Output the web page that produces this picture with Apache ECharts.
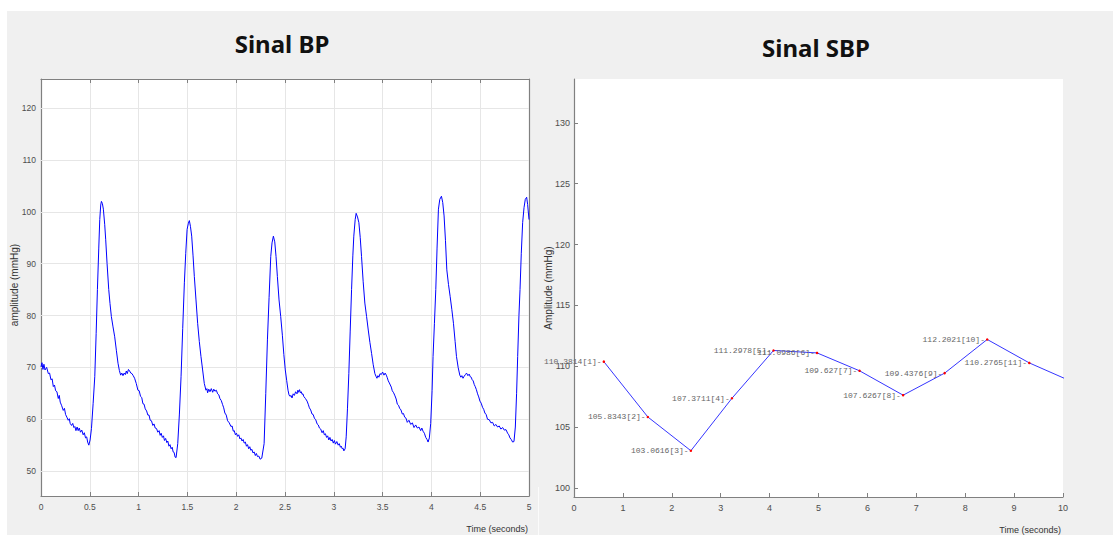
<!DOCTYPE html>
<html>
<head>
<meta charset="utf-8">
<script src="https://cdn.jsdelivr.net/npm/echarts@6/dist/echarts.min.js"></script>
<style>
  html, body { margin: 0; padding: 0; background: #fff; }
  #chart { width: 1113px; height: 535px; }
</style>
</head>
<body>
<div id="chart"></div>
<script>
// Blood pressure waveform, [time (s), amplitude (mmHg)]
const bpSamples = [
  [0.000,70.1],[0.010,70.9],[0.020,69.6],[0.030,70.6],[0.041,69.5],[0.058,70.0],[0.075,68.8],[0.088,68.9],
  [0.102,67.6],[0.114,67.8],[0.126,66.3],[0.138,66.6],[0.150,65.5],[0.163,65.3],[0.177,64.0],[0.187,64.6],
  [0.197,63.3],[0.212,62.6],[0.228,61.7],[0.240,62.1],[0.252,60.9],[0.265,60.4],[0.279,59.8],[0.290,60.1],
  [0.299,59.2],[0.313,58.8],[0.325,59.2],[0.337,58.4],[0.347,58.6],[0.358,57.8],[0.370,58.5],[0.381,57.8],
  [0.392,58.3],[0.405,57.5],[0.418,57.9],[0.432,57.0],[0.444,57.4],[0.456,56.4],[0.468,56.6],[0.478,55.6],
  [0.490,55.0],[0.503,56.0],[0.517,58.2],
  [0.534,63.0],[0.551,68.2],[0.565,76.5],[0.578,85.0],[0.592,93.0],[0.602,98.5],[0.612,101.3],[0.619,102.0],
  [0.629,101.6],[0.639,100.5],[0.653,97.5],[0.663,94.6],[0.677,90.0],[0.694,85.0],[0.707,82.3],[0.721,79.8],
  [0.738,77.8],[0.755,75.9],[0.772,73.3],[0.789,70.8],[0.803,69.4],[0.816,68.5],[0.828,68.9],[0.840,68.4],
  [0.852,68.9],[0.864,68.6],[0.874,69.3],[0.884,68.8],[0.896,69.6],[0.908,69.3],[0.920,68.9],[0.932,68.8],
  [0.945,68.4],[0.959,67.9],[0.976,66.9],[0.993,65.6],[1.006,65.5],[1.020,64.4],[1.032,64.2],[1.044,63.0],
  [1.056,62.9],[1.068,62.0],[1.082,61.6],[1.095,60.8],[1.107,60.8],[1.119,59.8],[1.132,59.7],[1.146,58.8],
  [1.158,59.1],[1.170,58.3],[1.184,58.2],[1.197,57.5],[1.210,57.8],[1.221,56.9],[1.231,57.3],[1.243,56.5],
  [1.255,56.8],[1.265,55.9],[1.277,56.3],[1.289,55.5],[1.299,55.8],[1.311,54.8],[1.322,55.1],[1.333,54.3],
  [1.344,54.6],[1.354,53.7],[1.364,53.6],[1.374,52.7],[1.384,52.6],
  [1.401,55.3],[1.418,61.0],[1.435,68.2],[1.452,77.5],[1.469,86.3],[1.483,92.0],[1.497,96.6],[1.510,97.8],
  [1.520,98.3],[1.531,97.2],[1.544,95.3],[1.558,91.5],[1.571,87.5],[1.588,83.0],[1.605,78.5],[1.622,75.0],
  [1.639,72.1],[1.656,69.5],[1.673,66.9],[1.690,65.6],[1.700,65.9],[1.707,65.1],[1.719,65.8],[1.731,65.3],
  [1.745,65.9],[1.759,65.2],[1.770,65.8],[1.782,65.4],[1.796,65.6],[1.810,64.9],[1.822,64.7],[1.833,64.0],
  [1.847,63.6],[1.861,62.8],[1.872,62.2],[1.884,61.2],[1.898,60.8],[1.912,59.7],[1.929,59.3],[1.946,58.6],
  [1.958,58.7],[1.970,57.7],[1.980,57.8],[1.992,57.0],[2.003,57.3],[2.014,56.7],[2.026,57.0],[2.038,56.2],
  [2.048,56.4],[2.060,55.8],[2.071,56.1],[2.082,55.4],[2.094,55.6],[2.105,54.8],[2.116,55.1],[2.128,54.3],
  [2.139,54.7],[2.150,54.0],[2.161,54.2],[2.172,53.5],[2.184,53.7],[2.196,53.0],[2.207,53.4],[2.218,52.8],
  [2.232,52.9],[2.245,52.3],[2.262,52.5],
  [2.286,55.3],[2.303,65.0],[2.320,75.3],[2.337,83.5],[2.354,91.4],[2.367,94.0],[2.381,95.3],[2.395,94.2],
  [2.408,91.4],[2.422,87.5],[2.439,83.0],[2.456,79.8],[2.473,76.2],[2.488,72.5],[2.503,69.5],[2.517,67.5],
  [2.531,65.6],[2.541,64.7],[2.551,64.4],[2.562,64.6],[2.572,64.1],[2.584,64.9],[2.596,64.6],[2.609,65.3],
  [2.623,64.9],[2.632,65.6],[2.640,65.2],[2.649,65.7],[2.658,65.1],[2.667,65.3],[2.675,64.8],[2.684,64.9],
  [2.692,64.4],[2.709,64.0],[2.726,63.5],[2.738,62.9],[2.750,62.2],[2.763,61.8],[2.777,61.0],[2.789,60.9],
  [2.801,60.2],[2.815,59.9],[2.829,59.1],[2.841,58.9],[2.853,58.3],[2.866,58.1],[2.880,57.4],[2.892,57.8],
  [2.903,57.0],[2.914,57.2],[2.926,56.5],[2.937,56.8],[2.949,56.0],[2.960,56.5],[2.972,55.8],[2.983,56.1],
  [2.995,55.4],[3.006,55.9],[3.017,55.2],[3.031,55.7],[3.045,55.0],[3.056,55.3],[3.068,54.6],[3.077,54.8],
  [3.086,54.3],[3.096,54.4],[3.103,53.9],[3.116,54.3],
  [3.127,56.6],[3.140,62.0],[3.154,68.8],[3.168,77.0],[3.182,85.0],[3.195,91.5],[3.205,95.3],[3.219,98.5],
  [3.229,99.7],[3.243,99.0],[3.257,97.9],[3.271,95.0],[3.284,91.4],[3.301,86.5],[3.318,82.4],[3.336,79.8],
  [3.353,77.2],[3.370,74.8],[3.387,72.7],[3.404,70.5],[3.421,68.8],[3.432,68.3],[3.442,67.9],[3.452,68.4],
  [3.462,68.1],[3.474,68.8],[3.486,68.6],[3.500,69.1],[3.514,68.5],[3.526,68.9],[3.538,68.5],[3.548,68.0],
  [3.558,67.4],[3.569,67.0],[3.579,66.6],[3.589,66.2],[3.599,65.5],[3.613,65.1],[3.627,64.5],[3.639,63.9],
  [3.651,62.9],[3.663,62.7],[3.675,62.1],[3.688,61.8],[3.702,61.0],[3.714,61.1],[3.726,60.4],[3.740,60.2],
  [3.753,59.4],[3.770,59.8],[3.788,59.0],[3.805,59.3],[3.822,58.4],[3.839,58.9],[3.856,58.3],[3.873,58.5],
  [3.890,57.8],[3.902,58.3],[3.914,57.7],[3.928,57.3],[3.942,56.5],[3.955,56.1],[3.966,55.6],[3.979,56.4],
  [3.993,59.2],[4.007,65.5],[4.017,72.1],[4.031,78.5],[4.045,85.0],[4.058,93.0],[4.072,100.5],[4.086,102.4],
  [4.103,103.0],[4.116,101.8],[4.130,99.2],[4.144,94.5],[4.158,88.8],[4.175,86.0],[4.192,83.7],[4.209,81.2],
  [4.226,78.5],[4.243,75.0],[4.257,72.1],[4.274,70.0],[4.291,68.5],[4.302,68.1],[4.312,68.4],[4.324,67.9],
  [4.336,68.3],[4.348,68.6],[4.360,68.9],[4.374,68.4],[4.387,68.7],[4.398,68.2],[4.408,68.1],[4.418,67.6],
  [4.428,67.4],[4.439,66.7],[4.449,66.3],[4.461,65.7],[4.473,64.9],[4.485,64.3],[4.497,63.5],[4.510,63.1],
  [4.524,62.3],[4.536,61.9],[4.548,61.2],[4.561,60.9],[4.575,60.0],[4.593,59.9],[4.610,59.3],[4.627,59.4],
  [4.644,58.7],[4.661,59.0],[4.678,58.5],[4.695,58.7],[4.712,58.1],[4.730,58.4],[4.747,57.9],[4.764,58.0],
  [4.781,57.3],[4.793,57.0],[4.805,56.4],[4.818,56.1],[4.832,55.6],[4.846,55.7],
  [4.860,58.5],[4.873,65.0],[4.884,72.1],[4.897,80.0],[4.908,85.0],[4.921,92.0],[4.935,97.9],[4.949,100.8],
  [4.962,102.4],[4.976,102.8],[4.986,101.4],[5.000,98.5]
];
const bpYTicks = [50, 60, 70, 80, 90, 100, 110, 120];

// Systolic peaks: time (s) and value (mmHg)
const sbpTimes  = [0.61, 1.51, 2.39, 3.23, 4.08, 4.97, 5.84, 6.73, 7.58, 8.45, 9.31];
const sbpValues = [110.3814, 105.8343, 103.0616, 107.3711, 111.2978, 111.0986, 109.627, 107.6267, 109.4376, 112.2021, 110.2765];
// next peak, just past the end of the time axis
const sbpTail = [10.18, 108.74];
const sbpYTicks = [100, 105, 110, 115, 120, 125, 130];

const axisGrey = '#808080';
const tickText = { color: '#4d4d4d', fontFamily: 'Liberation Sans, Arial, sans-serif' };

const chart = echarts.init(document.getElementById('chart'), null, { renderer: 'svg' });

const sbpData = sbpTimes.map((t, i) => ({ value: [t, sbpValues[i]] }));
sbpData.push({ value: sbpTail, symbol: 'none', label: { show: false } });

chart.setOption({
  animation: false,
  backgroundColor: '#fff',
  graphic: [
    { type: 'rect', z: -100, shape: { x: 7, y: 11, width: 1106, height: 524 }, style: { fill: '#f0f0f0' } },
    { type: 'line', z: -99, shape: { x1: 538.5, y1: 487, x2: 538.5, y2: 535 }, style: { stroke: '#fbfbfb', lineWidth: 1 } },
    { type: 'text', x: 282, y: 43, style: { text: 'Sinal BP', font: 'bold 24px "Noto Sans", sans-serif', fill: '#111', textAlign: 'center', textVerticalAlign: 'middle' } },
    { type: 'text', x: 816, y: 47, style: { text: 'Sinal SBP', font: 'bold 24px "Noto Sans", sans-serif', fill: '#111', textAlign: 'center', textVerticalAlign: 'middle' } },
    { type: 'text', x: 14, y: 285, rotation: Math.PI / 2, style: { text: 'amplitude (mmHg)', font: '10px "Liberation Sans", Arial, sans-serif', fill: '#333', textAlign: 'center', textVerticalAlign: 'middle' } },
    { type: 'text', x: 548, y: 288, rotation: Math.PI / 2, style: { text: 'Amplitude (mmHg)', font: '10px "Liberation Sans", Arial, sans-serif', fill: '#333', textAlign: 'center', textVerticalAlign: 'middle' } },
    { type: 'text', x: 528, y: 529, style: { text: 'Time (seconds)', font: '9px "Liberation Sans", Arial, sans-serif', fill: '#333', textAlign: 'right', textVerticalAlign: 'middle' } },
    { type: 'text', x: 1061, y: 530, style: { text: 'Time (seconds)', font: '9px "Liberation Sans", Arial, sans-serif', fill: '#333', textAlign: 'right', textVerticalAlign: 'middle' } }
  ],
  grid: [
    { left: 41, top: 79, width: 488, height: 417, show: true, backgroundColor: '#fff', borderWidth: 0 },
    { left: 574, top: 79, width: 489, height: 418, show: true, backgroundColor: '#fff', borderWidth: 0 }
  ],
  xAxis: [
    {
      gridIndex: 0, type: 'value', min: 0, max: 5, interval: 0.5, position: 'bottom',
      axisLine: { show: true, onZero: false, lineStyle: { color: axisGrey, width: 1.2 } },
      axisTick: { show: true, inside: true, length: 4, lineStyle: { color: axisGrey } },
      axisLabel: { ...tickText, fontSize: 8.5, margin: 6 },
      splitLine: { show: true, lineStyle: { color: '#e6e6e6', width: 1 } }
    },
    {
      gridIndex: 0, type: 'value', min: 0, max: 5, interval: 0.5, position: 'top',
      axisLine: { show: true, onZero: false, lineStyle: { color: axisGrey, width: 1.2 } },
      axisTick: { show: true, inside: true, length: 4, lineStyle: { color: axisGrey } },
      axisLabel: { show: false }, splitLine: { show: false }
    },
    {
      gridIndex: 1, type: 'value', min: 0, max: 10, interval: 1, position: 'bottom',
      axisLine: { show: true, onZero: false, lineStyle: { color: axisGrey, width: 1.2 } },
      axisTick: { show: true, inside: true, length: 4, lineStyle: { color: axisGrey } },
      axisLabel: { ...tickText, fontSize: 9, margin: 6 },
      splitLine: { show: false }
    }
  ],
  yAxis: [
    {
      gridIndex: 0, type: 'value', min: 45.2, max: 125.6, position: 'left',
      axisLine: { show: true, onZero: false, lineStyle: { color: axisGrey, width: 1.2 } },
      axisTick: { show: true, inside: true, length: 4, customValues: bpYTicks, lineStyle: { color: axisGrey } },
      axisLabel: { ...tickText, fontSize: 8.5, margin: 5, customValues: bpYTicks },
      splitLine: { show: false }
    },
    {
      gridIndex: 0, type: 'value', min: 45.2, max: 125.6, position: 'right',
      axisLine: { show: true, onZero: false, lineStyle: { color: axisGrey, width: 1.2 } },
      axisTick: { show: true, inside: true, length: 4, customValues: bpYTicks, lineStyle: { color: axisGrey } },
      axisLabel: { show: false }, splitLine: { show: false }
    },
    {
      gridIndex: 1, type: 'value', min: 99.26, max: 133.6, position: 'left',
      axisLine: { show: true, onZero: false, lineStyle: { color: axisGrey, width: 1.2 } },
      axisTick: { show: true, inside: true, length: 4, customValues: sbpYTicks, lineStyle: { color: axisGrey } },
      axisLabel: { ...tickText, fontSize: 9, margin: 4, customValues: sbpYTicks },
      splitLine: { show: false }
    }
  ],
  series: [
    {
      // horizontal grid lines of the BP panel
      type: 'line', xAxisIndex: 0, yAxisIndex: 0, data: [], z: 1, silent: true,
      markLine: {
        silent: true, symbol: 'none', z: 1, animation: false,
        label: { show: false },
        lineStyle: { color: '#e6e6e6', type: 'solid', width: 1 },
        data: bpYTicks.map(v => ({ yAxis: v }))
      }
    },
    {
      name: 'BP', type: 'line', xAxisIndex: 0, yAxisIndex: 0, z: 3,
      data: bpSamples, symbol: 'none', sampling: null,
      lineStyle: { color: '#0000ff', width: 1 }
    },
    {
      name: 'SBP', type: 'line', xAxisIndex: 2, yAxisIndex: 2, z: 3,
      data: sbpData, symbol: 'circle', symbolSize: 2.5, showSymbol: true,
      itemStyle: { color: '#ff0000' },
      lineStyle: { color: '#3535ff', width: 1 },
      label: {
        show: true, position: 'left', distance: 1,
        fontFamily: 'Liberation Mono, DejaVu Sans Mono, monospace', fontSize: 8, color: '#666',
        formatter: p => p.value[1] + '[' + (p.dataIndex + 1) + ']-'
      }
    }
  ]
});
</script>
</body>
</html>
